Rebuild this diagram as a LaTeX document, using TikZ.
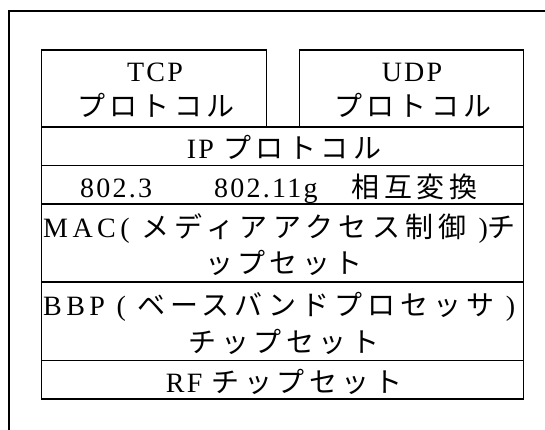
\documentclass[tikz,border=0pt]{standalone}
\usepackage{fontspec}
\setmainfont{Liberation Serif}[LetterSpace=8]
\newfontfamily\jp{Noto Sans CJK JP}[LetterSpace=16]
\newfontfamily\jpw{Noto Sans CJK JP}[LetterSpace=19.5]
\newfontfamily\jpm{Noto Sans CJK JP}[LetterSpace=17.5]
\newfontfamily\latw{Liberation Serif}[LetterSpace=16]
\tikzset{
  layer/.style={draw, line width=1.4pt, inner sep=0pt},
  label/.style={inner sep=0pt, anchor=base, font=\fontsize{28}{32}\selectfont},
}
\begin{document}
\begin{tikzpicture}[x=1pt,y=-1pt]
\useasboundingbox (0,0) rectangle (545,430);
\clip (0,0) rectangle (545,430);
\draw[line width=1.4pt] (9,11) rectangle (600,480);
% boxes
\node[layer, minimum width=225pt, minimum height=77pt] (tcp) at (154.2,88.5) {};
\node[layer, minimum width=224pt, minimum height=77pt] (udp) at (411.3,88.5) {};
\node[layer, minimum width=481.6pt, minimum height=38.5pt] (ip) at (282.5,146.25) {};
\node[layer, minimum width=481.6pt, minimum height=38.5pt] (std) at (282.5,184.75) {};
\node[layer, minimum width=481.6pt, minimum height=78pt] (mac) at (282.5,243) {};
\node[layer, minimum width=481.6pt, minimum height=78.5pt] (bbp) at (282.5,321.25) {};
\node[layer, minimum width=481.6pt, minimum height=38.5pt] (rf) at (282.5,379.75) {};
% texts
\node[label] (tcp1) at (155,82) {TCP};
\node[label] (tcp2) at (156,117) {\jp プロトコル};
\node[label] (udp1) at (412,82) {UDP};
\node[label] (udp2) at (413,117) {\jp プロトコル};
\node[label] (ipt) at (284,159) {IP {\jp プロトコル}};
\node[label, anchor=base west] (stdt) at (80,197) {802.3\hspace{62pt}802.11g\hspace{34pt}{\jp 相互変換}};
\node[label, anchor=base west] (mac1) at (43,237) {\latw MAC( {\jpw メディアアクセス制御} ){\jpw チ}};
\node[label] (mac2) at (284,273) {\jp ップセット};
\node[label, anchor=base west] (bbp1) at (43,315) {\latw BBP ( {\jpm ベースバンドプロセッサ} )};
\node[label] (bbp2) at (284,352) {\jp チップセット};
\node[label] (rft) at (284,392) {RF {\jp チップセット}};
\end{tikzpicture}
\end{document}
